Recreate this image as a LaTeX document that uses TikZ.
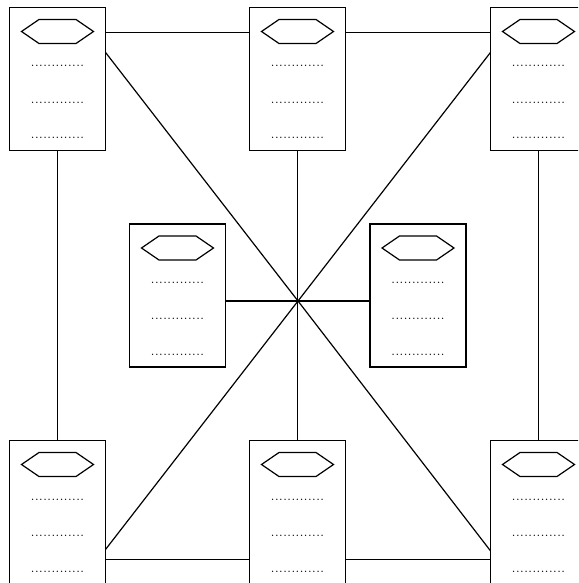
\documentclass[tikz,border=0pt]{standalone}
\usetikzlibrary{calc}
\begin{document}
\begin{tikzpicture}[x=1pt,y=-1pt,
  cardframe/.style={draw,line width=1.2pt,minimum width=96pt,minimum height=143pt,
    inner sep=0pt,outer sep=0pt,fill=white},
  wire/.style={line width=1.2pt},
  hexline/.style={line width=1.2pt,line join=miter},
  dotrow/.style={font=\fontsize{16.5}{18}\selectfont,inner sep=0pt,anchor=base}]
\useasboundingbox (0,0) rectangle (578,583);
% a card: frame, hexagonal title badge and three dotted rows
\newcommand\cardbox[3]{%
  \node[cardframe] (#1) at (#2,#3) {};
  \begin{scope}[shift={(#1.north)}]
    \draw[hexline] (-36,24) -- (-18.5,12) -- (18.5,12) -- (36,24)
      -- (18.5,36) -- (-18.5,36) -- cycle;
    \node[dotrow] (#1-a) at (0,59.5) {.............};
    \node[dotrow] (#1-b) at (0,95.5) {.............};
    \node[dotrow] (#1-c) at (0,131.5) {.............};
  \end{scope}}
\begin{scope}
\clip (0,0) rectangle (578,583);
\cardbox{tl}{57.5}{79}
\cardbox{tm}{297.5}{79}
\cardbox{tr}{538.5}{79}
\cardbox{ml}{177.5}{295.5}
\cardbox{mr}{418}{295.5}
\cardbox{bl}{57.5}{512}
\cardbox{bm}{297.5}{512}
\cardbox{br}{538.5}{512}
\coordinate (hub) at (298,301);
% connectors
\draw[wire] (tl.south) -- (bl.north);
\draw[wire] (tm.south) -- (bm.north);
\draw[wire] (tr.south) -- (br.north);
\draw[wire] ([shift={(0,25)}]tl.north east) -- ([shift={(0,25)}]tm.north west);
\draw[wire] ([shift={(0,25)}]tm.north east) -- ([shift={(0,25)}]tr.north west);
\draw[wire] ([shift={(0,-24)}]bl.south east) -- ([shift={(0,-24)}]bm.south west);
\draw[wire] ([shift={(0,-24)}]bm.south east) -- ([shift={(0,-24)}]br.south west);
\draw[wire] (ml.east |- hub) -- (mr.west |- hub);
\draw[wire] (tl.29) -- (hub) -- (br.-141.6);
\draw[wire] (tr.151) -- (hub) -- (bl.-38.4);
\end{scope}
\end{tikzpicture}
\end{document}
